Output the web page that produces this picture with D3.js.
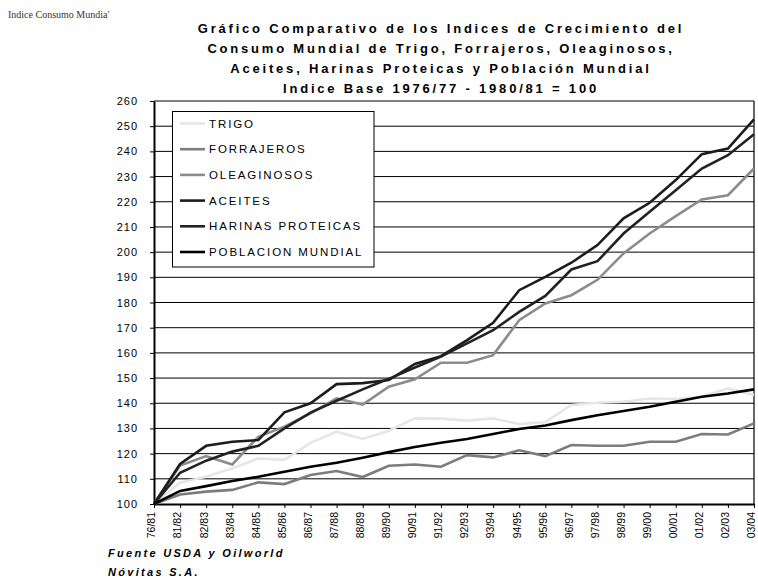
<!DOCTYPE html>
<html>
<head>
<meta charset="utf-8">
<script src="https://cdn.jsdelivr.net/npm/d3@7"></script>
<style>
  html, body { margin: 0; padding: 0; background: #fff; }
  svg { display: block; }
</style>
</head>
<body>
<svg id="chart" width="758" height="587"></svg>
<script>
const categories = ["76/81","81/82","82/83","83/84","84/85","85/86","86/87","87/88","88/89","89/90","90/91","91/92","92/93","93/94","94/95","95/96","96/97","97/98","98/99","99/00","00/01","01/02","02/03","03/04"];
const trigo       = [100, 108.5, 110.8, 114.2, 118.1, 117.5, 124.3, 128.7, 125.8, 129.1, 134.0, 133.9, 133.1, 134.0, 131.7, 132.5, 139.3, 140.2, 140.6, 141.9, 141.7, 142.6, 145.9, 143.3];
const forrajeros  = [100, 103.8, 104.9, 105.6, 108.6, 107.9, 111.5, 113.1, 110.7, 115.2, 115.7, 114.8, 119.4, 118.5, 121.3, 119.0, 123.4, 123.1, 123.1, 124.7, 124.7, 127.8, 127.6, 132.0];
const oleaginosos = [100, 115.3, 119.0, 115.7, 126.7, 130.7, 136.0, 141.9, 139.5, 146.6, 149.5, 156.1, 156.1, 159.1, 173.0, 179.6, 182.9, 189.0, 199.5, 207.4, 214.3, 220.9, 222.6, 233.2];
const aceites     = [100, 115.9, 123.1, 124.7, 125.4, 136.4, 140.0, 147.6, 148.0, 149.2, 155.6, 158.7, 165.1, 171.9, 184.9, 190.2, 195.8, 202.8, 213.4, 219.6, 228.6, 238.9, 241.1, 252.7];
const harinas     = [100, 112.4, 117.2, 120.8, 123.1, 130.0, 136.3, 141.0, 145.5, 149.7, 154.2, 158.5, 163.8, 169.0, 176.3, 182.6, 193.1, 196.4, 207.4, 216.0, 224.6, 233.2, 238.5, 246.8];
const poblacion   = [100, 105.2, 107.1, 109.1, 110.8, 112.8, 114.8, 116.4, 118.4, 120.6, 122.6, 124.3, 125.8, 127.8, 129.8, 131.2, 133.3, 135.2, 136.9, 138.6, 140.6, 142.6, 143.9, 145.5];
const seriesNames = ["TRIGO","FORRAJEROS","OLEAGINOSOS","ACEITES","HARINAS PROTEICAS","POBLACION MUNDIAL"];
const yTicks = [100,110,120,130,140,150,160,170,180,190,200,210,220,230,240,250,260];
const titleLines = [
  "Gráfico Comparativo de los Indices de Crecimiento del",
  "Consumo Mundial de Trigo, Forrajeros, Oleaginosos,",
  "Aceites, Harinas Proteicas y Población Mundial",
  "Indice Base 1976/77 - 1980/81 = 100"
];
const cornerText = "Indice Consumo Mundia'";
const sourceLines = ["Fuente USDA y Oilworld", "Nóvitas S.A."];

const seriesValues = [trigo, forrajeros, oleaginosos, aceites, harinas, poblacion];
const colors = ["#e6e6e6", "#7c7c7c", "#8c8c8c", "#1c1c1c", "#222222", "#000000"];

const svg = d3.select("#chart");
const font = "'Liberation Sans', Arial, sans-serif";
const L = 154, R = 754, T = 101, B = 504;

const x = d3.scalePoint().domain(categories).range([L, R]);
const y = d3.scaleLinear().domain([100, 260]).range([B, T]);

// corner text
svg.append("text").attr("x", 8).attr("y", 18)
  .attr("font-family", "'Liberation Serif', 'Times New Roman', serif")
  .attr("font-size", 10).attr("fill", "#333").text(cornerText);

// title
svg.append("g").selectAll("text").data(titleLines).join("text")
  .attr("x", 441).attr("y", (d, i) => [32.5, 52.5, 72.5, 93][i])
  .attr("text-anchor", "middle")
  .attr("font-family", font).attr("font-weight", "bold")
  .attr("font-size", 13).attr("letter-spacing", "2.8px")
  .attr("fill", "#000").text(d => d);

// gridlines
svg.append("g").selectAll("line").data(yTicks.filter(v => v > 100)).join("line")
  .attr("x1", L).attr("x2", R)
  .attr("y1", d => y(d)).attr("y2", d => y(d))
  .attr("stroke", "#000").attr("stroke-width", 1);

// right border
svg.append("line").attr("x1", R).attr("x2", R).attr("y1", T).attr("y2", B)
  .attr("stroke", "#000").attr("stroke-width", 1.2);

// y axis
const yAxis = svg.append("g").attr("transform", `translate(${L},0)`)
  .call(d3.axisLeft(y).tickValues(yTicks).tickSize(4).tickSizeOuter(0).tickPadding(12));
yAxis.select(".domain").attr("stroke", "#000").attr("stroke-width", 2);
yAxis.selectAll(".tick line").attr("stroke", "#000");
yAxis.selectAll(".tick text").attr("font-family", font).attr("font-size", 11)
  .attr("letter-spacing", "1px").attr("fill", "#000");

// x axis
const xAxis = svg.append("g").attr("transform", `translate(0,${B})`)
  .call(d3.axisBottom(x).tickSize(4).tickSizeOuter(0));
xAxis.select(".domain").attr("stroke", "#000").attr("stroke-width", 2);
xAxis.selectAll(".tick line").attr("stroke", "#000");
xAxis.selectAll(".tick text")
  .attr("transform", "rotate(-90)")
  .attr("x", -8).attr("y", 0).attr("dy", "0.08em")
  .attr("text-anchor", "end")
  .attr("font-family", font).attr("font-size", 10.5).attr("fill", "#000");

// lines
const line = d3.line().x((d, i) => x(categories[i])).y(d => y(d));
svg.append("g").selectAll("path").data(seriesValues).join("path")
  .attr("d", d => line(d))
  .attr("fill", "none")
  .attr("stroke", (d, i) => colors[i])
  .attr("stroke-width", 2.6)
  .attr("stroke-linejoin", "miter");

// legend
const lg = svg.append("g");
lg.append("rect").attr("x", 172.5).attr("y", 111.5).attr("width", 201.5).attr("height", 155.5)
  .attr("fill", "#fff").attr("stroke", "#000").attr("stroke-width", 1);
const items = lg.selectAll("g.item").data(seriesNames).join("g")
  .attr("transform", (d, i) => `translate(0,${123.5 + i * 25.7})`);
items.append("line").attr("x1", 180).attr("x2", 205).attr("y1", 0).attr("y2", 0)
  .attr("stroke", (d, i) => colors[i]).attr("stroke-width", 2.6);
items.append("text").attr("x", 209).attr("y", 0).attr("dy", "0.36em")
  .attr("font-family", font).attr("font-size", 11.5).attr("letter-spacing", "1.9px")
  .attr("fill", "#000").text(d => d);

// source
svg.append("g").selectAll("text").data(sourceLines).join("text")
  .attr("x", 108).attr("y", (d, i) => [557, 576][i])
  .attr("font-family", font).attr("font-weight", "bold").attr("font-style", "italic")
  .attr("font-size", 11).attr("letter-spacing", "2.3px")
  .attr("fill", "#000").text(d => d);
</script>
</body>
</html>
